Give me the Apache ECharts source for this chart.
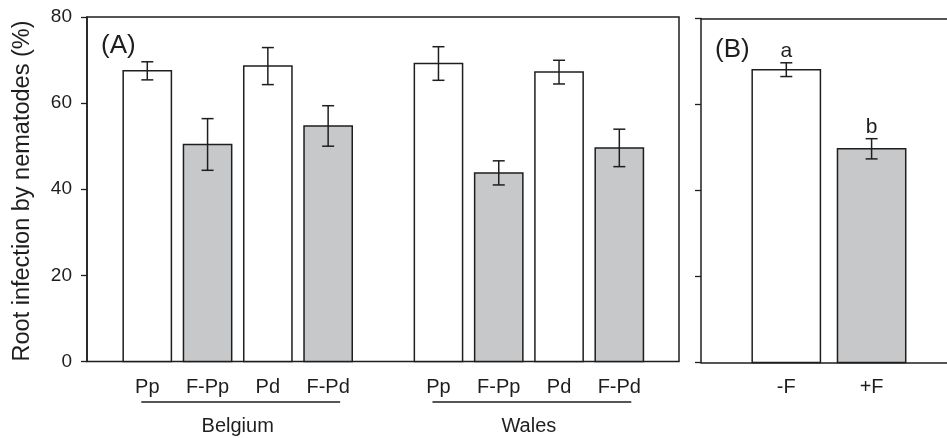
<!DOCTYPE html>
<html>
<head>
<meta charset="utf-8">
<script src="https://cdn.jsdelivr.net/npm/echarts@6/dist/echarts.min.js"></script>
<style>
html,body{margin:0;padding:0;background:#fff;}
#chart{width:947px;height:438px;}
</style>
</head>
<body>
<div id="chart"></div>
<script>
// ---- data ----
const categories = ['Pp', 'F-Pp', 'Pd', 'F-Pd'];
const groups = ['Belgium', 'Wales'];
const belgiumMean = [67.5, 50.4, 68.6, 54.7];
const belgiumErr = [2.1, 6.0, 4.3, 4.7];
const walesMean = [69.2, 43.8, 67.2, 49.6];
const walesErr = [3.9, 2.8, 2.75, 4.35];
const fungusCats = ['-F', '+F'];
const fungusMean = [68.1, 49.7];
const fungusErr = [1.6, 2.35];
const fungusLetters = ['a', 'b'];
const yMin = 0, yMax = 80, yStep = 20;
const yTitle = 'Root infection by nematodes (%)';

// ---- layout (code, not data) ----
const FONT = "'Liberation Sans', Arial, sans-serif";
const INK = '#1e1e1e';
const GRAY = '#c7c8ca';
const groupStart = [1, 5.83];
const barFrac = 0.8;

const groupMeans = [belgiumMean, walesMean];
const groupErrs = [belgiumErr, walesErr];
const panelAData = [];
groupMeans.forEach((means, g) => {
  means.forEach((m, i) => {
    panelAData.push([groupStart[g] + i, m, groupErrs[g][i], i, categories[i]]);
  });
});
const groupData = groups.map((name, g) => [groupStart[g], groupStart[g] + categories.length - 1, g]);
const panelBData = fungusMean.map((m, i) => [i + 1, m, fungusErr[i], i, fungusCats[i], fungusLetters[i]]);

function barItem(api, fill, labelText, labelOffset, letter) {
  const x = api.value(0), v = api.value(1), e = api.value(2);
  const top = api.coord([x, v]);
  const base = api.coord([x, 0]);
  const hi = api.coord([x, v + e]);
  const lo = api.coord([x, v - e]);
  const w = api.size([barFrac, 0])[0];
  const cap = 6;
  const ls = { stroke: INK, lineWidth: 1.5 };
  const children = [
    { type: 'rect', shape: { x: top[0] - w / 2, y: top[1], width: w, height: base[1] - top[1] },
      style: { fill: fill, stroke: INK, lineWidth: 1.5 } },
    { type: 'line', shape: { x1: hi[0], y1: hi[1], x2: lo[0], y2: lo[1] }, style: ls },
    { type: 'line', shape: { x1: hi[0] - cap, y1: hi[1], x2: hi[0] + cap, y2: hi[1] }, style: ls },
    { type: 'line', shape: { x1: lo[0] - cap, y1: lo[1], x2: lo[0] + cap, y2: lo[1] }, style: ls },
    { type: 'text', style: { text: labelText, x: base[0], y: base[1] + labelOffset, align: 'center',
      verticalAlign: 'middle', fontSize: 20, fontFamily: FONT, fill: INK } }
  ];
  if (letter) {
    children.push({ type: 'text', style: { text: letter, x: hi[0], y: hi[1] - 1, align: 'center',
      verticalAlign: 'bottom', fontSize: 21, fontFamily: FONT, fill: INK } });
  }
  return { type: 'group', children: children };
}

const chart = echarts.init(document.getElementById('chart'), null, { renderer: 'canvas' });
const lineStyle = { color: INK, width: 1.5 };
const yAxisBase = {
  type: 'value', min: yMin, max: yMax, interval: yStep,
  axisLine: { show: true, lineStyle: lineStyle },
  axisTick: { show: true, inside: false, length: 6, lineStyle: { color: INK, width: 1.3 } },
  splitLine: { show: false }
};
const bUnits = 85.3;
chart.setOption({
  animation: false,
  grid: [
    { left: 87, top: 17, width: 592, height: 344.5, show: true, borderColor: INK, borderWidth: 1.5,
      containLabel: false, outerBoundsMode: 'none' },
    { left: 701, top: 18.5, width: 260, height: 344, show: false, containLabel: false, outerBoundsMode: 'none' }
  ],
  xAxis: [
    { type: 'value', gridIndex: 0, min: 0, max: 9.82, show: false },
    { type: 'value', gridIndex: 1, min: 0, max: 260 / bUnits, position: 'bottom',
      axisLine: { show: true, onZero: false, lineStyle: lineStyle }, axisTick: { show: false },
      axisLabel: { show: false }, splitLine: { show: false } },
    { type: 'value', gridIndex: 1, min: 0, max: 260 / bUnits, position: 'top',
      axisLine: { show: true, onZero: false, lineStyle: lineStyle }, axisTick: { show: false },
      axisLabel: { show: false }, splitLine: { show: false } }
  ],
  yAxis: [
    Object.assign({}, yAxisBase, { gridIndex: 0,
      axisLabel: { show: true, margin: 15, fontSize: 19, fontFamily: FONT, color: INK } }),
    Object.assign({}, yAxisBase, { gridIndex: 1, axisLabel: { show: false } })
  ],
  graphic: [
    { type: 'text', x: 22.7, y: 191, rotation: Math.PI / 2,
      style: { text: yTitle, align: 'center', verticalAlign: 'middle', fontSize: 23.5, fontFamily: FONT, fill: INK } },
    { type: 'text', x: 101, y: 46,
      style: { text: '(A)', align: 'left', verticalAlign: 'middle', fontSize: 26, fontFamily: FONT, fill: INK } },
    { type: 'text', x: 715, y: 49.5,
      style: { text: '(B)', align: 'left', verticalAlign: 'middle', fontSize: 26, fontFamily: FONT, fill: INK } }
  ],
  series: [
    {
      type: 'custom', xAxisIndex: 0, yAxisIndex: 0, clip: false,
      data: panelAData,
      renderItem: function (params, api) {
        const idx = api.value(3);
        return barItem(api, idx % 2 === 1 ? GRAY : '#ffffff', categories[idx], 26, null);
      }
    },
    {
      type: 'custom', xAxisIndex: 0, yAxisIndex: 0, clip: false,
      data: groupData,
      renderItem: function (params, api) {
        const a = api.coord([api.value(0), 0]);
        const b = api.coord([api.value(1), 0]);
        const g = api.value(2);
        return { type: 'group', children: [
          { type: 'line', shape: { x1: a[0] - 6, y1: a[1] + 40.5, x2: b[0] + 12, y2: b[1] + 40.5 },
            style: { stroke: INK, lineWidth: 1.4 } },
          { type: 'text', style: { text: groups[g], x: (a[0] + b[0]) / 2, y: a[1] + 65, align: 'center',
            verticalAlign: 'middle', fontSize: 20, fontFamily: FONT, fill: INK } }
        ] };
      }
    },
    {
      type: 'custom', xAxisIndex: 1, yAxisIndex: 1, clip: false,
      data: panelBData,
      renderItem: function (params, api) {
        const idx = api.value(3);
        return barItem(api, idx === 1 ? GRAY : '#ffffff', fungusCats[idx], 24.5, fungusLetters[idx]);
      }
    }
  ]
});
</script>
</body>
</html>
